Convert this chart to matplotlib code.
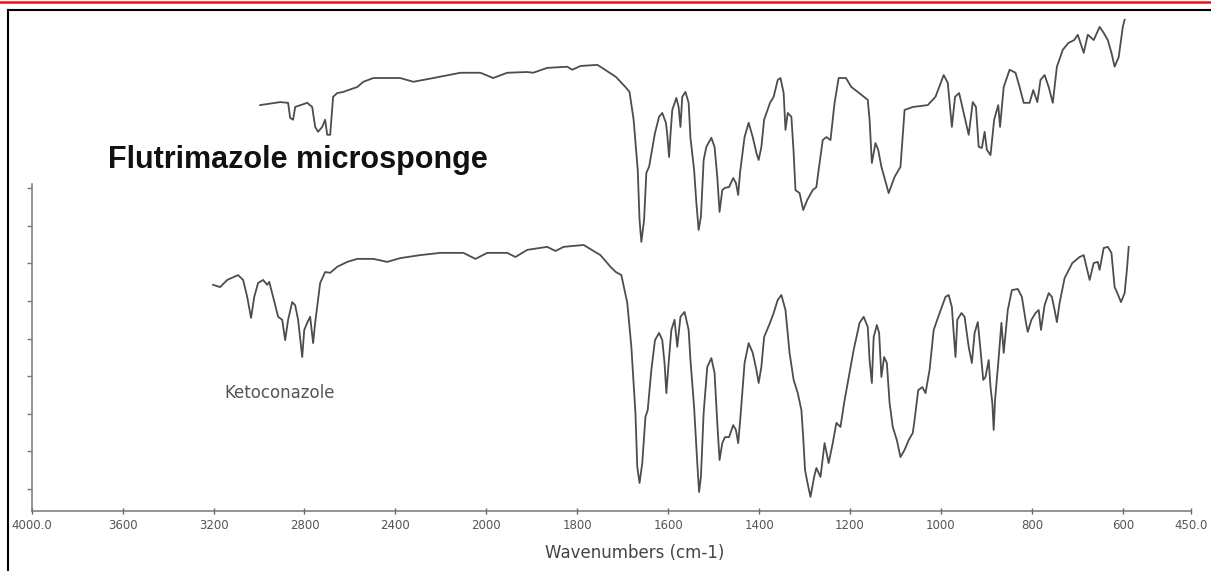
import numpy as np
import matplotlib.pyplot as plt
from matplotlib.lines import Line2D

# Flutrimazole microsponge (upper trace), wavenumber in cm-1, arbitrary transmittance units
flu_wn = [2995, 2907, 2872, 2863, 2850, 2841, 2788, 2766, 2753, 2740, 2722, 2709, 2700, 2687,
          2674, 2656, 2629, 2607, 2568, 2541, 2497, 2379, 2321, 2233, 2114, 2026, 1985, 1954,
          1910, 1897, 1866, 1822, 1811, 1793, 1756, 1749, 1715, 1694, 1685, 1676, 1667, 1663,
          1659, 1653, 1648, 1642, 1629, 1620, 1613, 1605, 1602, 1598, 1595, 1591, 1582, 1577,
          1573, 1569, 1562, 1555, 1551, 1543, 1538, 1533, 1528, 1522, 1516, 1505, 1498, 1492,
          1487, 1481, 1475, 1466, 1457, 1451, 1446, 1442, 1432, 1423, 1414, 1406, 1401, 1395,
          1389, 1376, 1368, 1359, 1353, 1346, 1342, 1337, 1329, 1324, 1320, 1311, 1303, 1294,
          1282, 1274, 1269, 1260, 1252, 1243, 1234, 1225, 1209, 1197, 1183, 1161, 1157, 1152,
          1144, 1138, 1131, 1115, 1102, 1089, 1080, 1062, 1029, 1012, 994, 985, 976, 969, 960,
          948, 939, 930, 923, 917, 910, 904, 899, 891, 883, 874, 870, 862, 849, 836, 827, 818,
          805, 797, 788, 781, 772, 763, 754, 745, 732, 720, 707, 699, 686, 677, 664, 651, 642,
          633, 625, 618, 609, 600, 596]
flu_t = [102.1, 102.9, 102.7, 98.7, 98.2, 101.6, 102.7, 101.6, 96.3, 95.0, 96.3, 98.2, 94.2, 94.2,
         104.3, 105.3, 105.6, 106.1, 106.9, 108.3, 109.3, 109.3, 108.3, 109.3, 110.7, 110.7, 109.3, 110.7,
         110.9, 110.7, 112.0, 112.3, 111.5, 112.5, 112.8, 112.3, 109.6, 106.9, 105.6, 98.2, 84.9, 71.6,
         65.7, 71.6, 84.1, 85.7, 94.7, 99.0, 100.0, 97.4, 94.2, 88.3, 94.2, 100.8, 104.0, 101.6,
         96.3, 104.3, 105.6, 102.7, 93.4, 84.9, 76.1, 68.9, 72.4, 87.5, 91.0, 93.4, 91.0, 83.0,
         73.7, 79.5, 80.1, 80.3, 82.7, 81.4, 78.2, 84.1, 93.6, 97.4, 93.6, 89.4, 87.5, 91.0,
         98.2, 102.7, 104.3, 108.8, 109.3, 105.3, 95.5, 100.0, 99.0, 89.4, 79.5, 78.7, 74.2, 76.9,
         79.5, 80.3, 84.9, 92.8, 93.6, 92.8, 102.7, 109.3, 109.3, 106.9, 105.6, 103.5, 98.2, 86.7,
         92.0, 90.2, 85.7, 78.7, 83.0, 85.7, 100.8, 101.6, 102.1, 104.3, 110.1, 108.0, 96.3, 104.3, 105.3,
         99.0, 94.2, 102.9, 101.6, 91.0, 90.7, 95.0, 90.2, 88.8, 98.2, 102.1, 96.3, 106.9, 111.5, 110.7, 106.9, 102.7,
         102.7, 106.1, 102.9, 108.8, 110.1, 106.9, 102.7, 112.3, 116.8, 118.6, 119.4, 120.8, 116.0, 120.8, 119.4, 122.9, 121.3,
         119.4, 116.0, 112.3, 114.9, 122.9, 124.8]

# Ketoconazole (lower trace)
keto_wn = [3202, 3171, 3140, 3092, 3070, 3052, 3035, 3021, 3004, 2982, 2964, 2955, 2938, 2916,
           2898, 2885, 2872, 2854, 2841, 2828, 2810, 2801, 2788, 2775, 2762, 2753, 2731, 2709,
           2687, 2656, 2612, 2568, 2497, 2436, 2379, 2291, 2202, 2101, 2048, 1998, 1954, 1936,
           1910, 1866, 1848, 1830, 1786, 1749, 1727, 1715, 1703, 1690, 1681, 1672, 1668, 1663,
           1657, 1650, 1645, 1637, 1629, 1620, 1613, 1608, 1604, 1599, 1593, 1586, 1580, 1573,
           1564, 1555, 1551, 1543, 1536, 1532, 1528, 1522, 1514, 1505, 1498, 1492, 1487, 1481,
           1475, 1466, 1457, 1451, 1446, 1441, 1432, 1423, 1414, 1406, 1401, 1395, 1389, 1376,
           1368, 1359, 1351, 1342, 1333, 1324, 1315, 1307, 1303, 1299, 1294, 1287, 1279, 1274,
           1265, 1256, 1247, 1238, 1230, 1221, 1213, 1204, 1192, 1179, 1170, 1161, 1157, 1152,
           1148, 1141, 1136, 1131, 1125, 1119, 1113, 1106, 1097, 1089, 1080, 1071, 1062, 1058,
           1050, 1041, 1034, 1025, 1016, 1003, 990, 983, 976, 972, 968, 964, 955, 948, 939, 932,
           926, 919, 913, 907, 902, 895, 891, 887, 884, 881, 874, 867, 862, 853, 844, 831, 822,
           813, 809, 801, 792, 785, 780, 772, 763, 756, 750, 745, 739, 728, 711, 695, 686, 673,
           664, 655, 651, 642, 633, 625, 618, 613, 604, 596, 591, 587]
keto_t = [54.3, 53.7, 55.6, 56.9, 55.6, 51.1, 45.5, 51.1, 54.8, 55.6, 54.3, 55.1, 51.1, 45.8,
          45.0, 39.6, 45.0, 49.7, 48.9, 45.0, 35.1, 42.3, 44.2, 45.8, 38.8, 44.2, 54.8, 57.7,
          57.5, 59.1, 60.4, 61.2, 61.2, 60.4, 61.4, 62.2, 62.8, 62.8, 61.2, 62.8, 62.8, 61.7,
          63.6, 64.4, 63.3, 64.4, 64.9, 62.2, 59.1, 57.7, 56.9, 49.5, 37.8, 20.2, 5.9, 1.6,
          6.9, 19.2, 21.0, 31.7, 39.6, 41.5, 39.6, 33.5, 25.5, 33.5, 42.3, 45.0, 37.8, 45.8,
          47.1, 42.3, 34.3, 21.8, 6.9, -0.8, 3.2, 20.2, 32.5, 34.8, 30.9, 17.6, 7.7, 12.2,
          13.8, 13.8, 17.0, 15.7, 12.2, 19.2, 33.5, 38.8, 36.2, 31.7, 28.2, 32.5, 40.4, 44.2,
          46.8, 50.3, 51.6, 47.6, 36.2, 29.0, 25.5, 21.0, 13.8, 5.1, 1.9, -2.1, 3.2, 5.6,
          3.2, 12.2, 6.9, 12.2, 17.6, 16.5, 22.9, 29.0, 37.0, 44.2, 45.8, 43.1, 34.3, 28.2,
          40.4, 43.6, 41.5, 29.8, 35.1, 33.5, 22.9, 16.5, 13.0, 8.5, 10.4, 13.0, 14.9, 18.4,
          26.3, 27.1, 25.5, 31.7, 42.3, 46.8, 51.1, 51.6, 48.4, 41.5, 35.1, 45.0, 46.8, 45.8, 37.8, 33.5,
          41.5, 44.4, 37.0, 29.0, 29.8, 34.3, 27.1, 22.9, 15.7, 23.7, 33.5, 44.2, 36.2, 47.6, 52.9, 53.2, 51.1,
          44.2, 41.8, 45.0, 46.8, 47.6, 42.3, 48.9, 52.1, 51.1, 47.6, 44.4, 49.5, 56.1, 60.1, 61.7, 62.2, 55.6,
          60.1, 60.4, 58.3, 64.1, 64.4, 62.8, 53.7, 52.4, 49.7, 52.1, 58.3, 64.4]

xticks = [4000, 3600, 3200, 2800, 2400, 2000, 1800, 1600, 1400, 1200, 1000, 800, 600, 450]
xtick_labels = ["4000.0", "3600", "3200", "2800", "2400", "2000", "1800", "1600",
                "1400", "1200", "1000", "800", "600", "450.0"]
yticks = [0, 10, 20, 30, 40, 50, 60, 70, 80]


def fwd(w):
    # instrument axis: half scale above 2000 cm-1
    w = np.asarray(w, dtype=float)
    return np.where(w > 2000, 2000 + (w - 2000) / 2, w)


def inv(p):
    p = np.asarray(p, dtype=float)
    return np.where(p > 2000, 2000 + (p - 2000) * 2, p)


fig = plt.figure(figsize=(12.11, 5.71), dpi=100)
ax = fig.add_axes([31.7 / 1211, 60 / 571, (1191 - 31.7) / 1211, 511 / 571])
ax.set_xscale("function", functions=(fwd, inv))

line_col = "#4d4d4d"
ax.plot(flu_wn, flu_t, color=line_col, lw=1.3)
ax.plot(keto_wn, keto_t, color=line_col, lw=1.3)

ax.set_xlim(4000, 450)
ax.set_ylim(-5.85, 130.05)

ax.set_xticks(xticks)
ax.set_xticklabels(xtick_labels)
ax.set_yticks(yticks)
ax.set_yticklabels([])
ax.xaxis.set_minor_locator(plt.NullLocator())

for s in ["top", "right"]:
    ax.spines[s].set_visible(False)
ax.spines["bottom"].set_color("#777777")
ax.spines["bottom"].set_linewidth(1.1)
ax.spines["left"].set_color("#777777")
ax.spines["left"].set_linewidth(1.1)
ax.spines["left"].set_bounds(-5.85, 81)

ax.tick_params(axis="x", direction="inout", length=4, width=1, color="#666666",
               labelsize=8.5, labelcolor="#555555", pad=4)
ax.tick_params(axis="y", direction="out", length=3.5, width=1, color="#777777")

ax.set_xlabel("Wavenumbers (cm-1)", fontsize=12, color="#444444")
ax.xaxis.set_label_coords((635 - 31.7) / (1191 - 31.7), -0.064)

fig.text(108 / 1211, 1 - 168 / 571, "Flutrimazole microsponge", fontsize=22,
         fontweight="bold", family="Liberation Sans", color="#111111", va="baseline")
fig.text(224 / 1211, 1 - 398.5 / 571, "Ketoconazole", fontsize=12,
         family="DejaVu Sans", color="#555555", va="baseline")

# page frame
fig.add_artist(Line2D([0, 1], [1 - 2 / 571, 1 - 2 / 571], transform=fig.transFigure,
                      color="#ee1111", lw=1.8))
fig.add_artist(Line2D([7.5 / 1211, 1], [1 - 9.5 / 571, 1 - 9.5 / 571], transform=fig.transFigure,
                      color="black", lw=1.5))
fig.add_artist(Line2D([7.5 / 1211, 7.5 / 1211], [0, 1 - 9.5 / 571], transform=fig.transFigure,
                      color="black", lw=1.5))

plt.savefig("out.png", dpi=100)
